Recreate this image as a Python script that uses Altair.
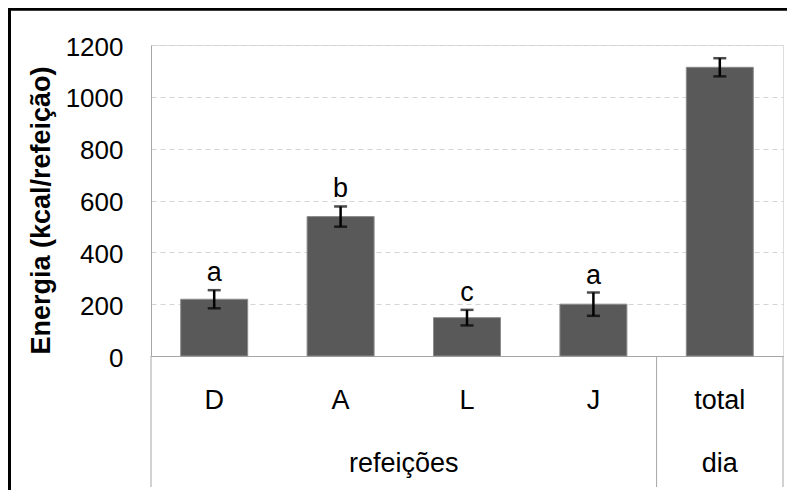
import altair as alt
import pandas as pd

categories = ["D", "A", "L", "J", "total"]
groups = ["refeições", "refeições", "refeições", "refeições", "dia"]
energy = [219, 538, 148, 200, 1114]
errors = [35, 39, 30, 45, 35]
letters = ["a", "b", "c", "a", ""]
y_ticks = [0, 200, 400, 600, 800, 1000, 1200]

FONT = "Liberation Sans"
AXIS_GRAY = "#a6a6a6"

df = pd.DataFrame({
    "cat": categories,
    "energy": energy,
    "lo": [e - s for e, s in zip(energy, errors)],
    "hi": [e + s for e, s in zip(energy, errors)],
    "letter": letters,
})

# group spans along the category index
names, starts, ends = [], [], []
for i, g in enumerate(groups):
    if not names or names[-1] != g:
        names.append(g)
        starts.append(i)
        ends.append(i + 1)
    else:
        ends[-1] = i + 1
grp = pd.DataFrame({"group": names, "mid": [(s + e) / 2 for s, e in zip(starts, ends)]})
bounds = pd.DataFrame({"b": sorted(set([0] + ends))})

W, H = 632, 311

xcat = alt.X(
    "cat:N", sort=categories,
    scale=alt.Scale(paddingInner=0.47, paddingOuter=0.235),
    axis=alt.Axis(title=None, labelAngle=0, labelFontSize=27, labelFont=FONT,
                  labelColor="black", labelPadding=31, ticks=False, tickSize=0,
                  domain=True, domainColor=AXIS_GRAY, domainWidth=1),
)
yscale = alt.Scale(domain=[0, 1200], nice=False)

base = alt.Chart(df)

bars = base.mark_bar(color="#595959", stroke="#8c8c8c", strokeWidth=1).encode(
    x=xcat,
    y=alt.Y(
        "energy:Q", scale=yscale,
        axis=alt.Axis(
            values=y_ticks, format="d", grid=True, gridDash=[5, 4], gridColor="#d4d4d4",
            domainColor=AXIS_GRAY, ticks=False, tickSize=0,
            labelFontSize=26, labelFont=FONT, labelColor="black", labelPadding=28,
            labelOffset=2,
            title="Energia (kcal/refeição)", titleFont=FONT, titleFontSize=27,
            titleFontWeight="bold", titleColor="black",
            titleX=-110, titleY=165, titleAngle=-90, titleBaseline="middle",
            titleAlign="center",
        ),
    ),
)

err_rule = base.mark_rule(color="black", strokeWidth=2.5).encode(
    x=alt.X("cat:N", sort=categories), y="lo:Q", y2="hi:Q"
)
cap_hi = base.mark_tick(color="black", size=13, thickness=2.5).encode(
    x=alt.X("cat:N", sort=categories), y="hi:Q"
)
cap_lo = base.mark_tick(color="black", size=13, thickness=2.5).encode(
    x=alt.X("cat:N", sort=categories), y="lo:Q"
)
text_letters = base.mark_text(
    font=FONT, fontSize=27, color="black", baseline="alphabetic", dy=-9
).encode(x=alt.X("cat:N", sort=categories), y="hi:Q", text="letter:N")

main = alt.layer(bars, err_rule, cap_hi, cap_lo, text_letters)

xq = alt.Scale(domain=[0, len(categories)], nice=False, zero=False)

sep = alt.Chart(bounds).mark_rule(color=AXIS_GRAY, strokeWidth=1).encode(
    x=alt.X("b:Q", scale=xq, axis=None),
    y=alt.value(H), y2=alt.value(442),
)
grp_text = alt.Chart(grp).mark_text(
    font=FONT, fontSize=27, color="black", baseline="alphabetic"
).encode(
    x=alt.X("mid:Q", scale=xq, axis=None),
    y=alt.value(427),
    text="group:N",
)

frame_left = alt.Chart(df).mark_rule(color="black", strokeWidth=2.5).encode(
    x=alt.value(-141.5), y=alt.value(-36), y2=alt.value(460)
)
frame_top = alt.Chart(df).mark_rule(color="black", strokeWidth=2.5).encode(
    x=alt.value(-142.5), x2=alt.value(660), y=alt.value(-36)
)

chart = alt.layer(main, sep, grp_text, frame_left, frame_top).resolve_scale(
    x="independent"
).properties(
    width=W, height=H,
    autosize=alt.AutoSizeParams(type="none"),
    padding={"left": 143, "top": 37, "right": 4, "bottom": 134},
).configure_view(stroke=None).configure(background="white")

chart.save("out.html", embed_options={"renderer": "svg", "actions": False})
